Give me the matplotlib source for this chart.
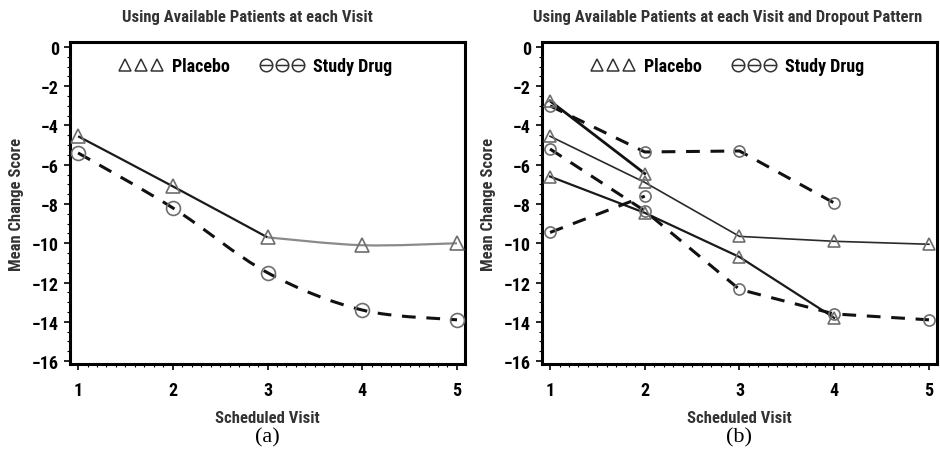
import numpy as np
import matplotlib
matplotlib.use("Agg")
import matplotlib.pyplot as plt
from matplotlib import font_manager
from matplotlib.path import Path
from matplotlib.patches import PathPatch
from matplotlib.lines import Line2D
from matplotlib.ticker import MultipleLocator

# ---- data -------------------------------------------------------------
visits = [1, 2, 3, 4, 5]
yticks = [0, -2, -4, -6, -8, -10, -12, -14, -16]

# (a) available patients at each visit
placebo_a = [-4.55, -7.1, -9.7, -10.1, -10.0]
drug_a = [-5.4, -8.2, -11.5, -13.4, -13.9]

# (b) by dropout pattern
placebo_b_done = [-4.55, -6.9, -9.65, -9.9, -10.05]   # completed 5 visits
placebo_b_v4 = [-6.6, -8.45, -10.7, -13.8]             # dropped out after visit 4
placebo_b_v2 = [-2.75, -6.45]                          # dropped out after visit 2
drug_b_done = [-5.2, -8.35, -12.35, -13.6, -13.9]
drug_b_v4 = [-3.0, -5.35, -5.3, -7.95]
drug_b_v2 = [-9.45, -7.6]

titles = ["Using Available Patients at each Visit",
          "Using Available Patients at each Visit and Dropout Pattern"]
panel_tags = ["(a)", "(b)"]


# ---- fonts: prefer a condensed face, else a narrow-ish one ------------
def first_available(names):
    for name in names:
        try:
            font_manager.findfont(font_manager.FontProperties(family=name),
                                  fallback_to_default=False)
            return name
        except Exception:
            continue
    return "DejaVu Sans"


_cond = first_available(["Roboto Condensed", "Liberation Sans Narrow",
                         "DejaVu Sans Condensed"])
if _cond != "DejaVu Sans":
    SANS = [_cond, "DejaVu Sans"]
    SCALE = 1.0
else:
    SANS = [first_available(["Roboto", "Lato", "DejaVu Sans"]), "DejaVu Sans"]
    SCALE = 0.86
SERIF = ["Liberation Serif", "DejaVu Serif"]
MARK_GRAY = "#6e6e6e"
TXT = "#333333"

# circle with a horizontal bar, as in the legend symbols
_circ = Path.unit_circle()
_bar = Path([(-1, 0), (1, 0)], [Path.MOVETO, Path.LINETO])
THETA_CIRCLE = Path.make_compound_path(_circ, _bar)


def smooth_path(ax, xs, ys, **kw):
    """Draw a smooth curve through the points (Catmull-Rom as cubic Beziers)."""
    pts = np.column_stack([np.asarray(xs, float), np.asarray(ys, float)])
    verts = [tuple(pts[0])]
    codes = [Path.MOVETO]
    n = len(pts)
    for i in range(n - 1):
        p0 = pts[i - 1] if i > 0 else pts[i]
        p1 = pts[i]
        p2 = pts[i + 1]
        p3 = pts[i + 2] if i + 2 < n else pts[i + 1]
        c1 = p1 + (p2 - p0) / 6.0
        c2 = p2 - (p3 - p1) / 6.0
        verts += [tuple(c1), tuple(c2), tuple(p2)]
        codes += [Path.CURVE4] * 3
    ax.add_patch(PathPatch(Path(verts, codes), fill=False, **kw))


def style_axes(ax):
    ax.set_xlim(0.915, 5.085)
    ax.set_ylim(-16.15, 0.25)
    ax.set_xticks(visits)
    ax.set_yticks(yticks)
    ax.xaxis.set_minor_locator(MultipleLocator(0.1))
    ax.yaxis.set_minor_locator(MultipleLocator(0.5))
    ax.set_xticklabels([str(v) for v in visits], fontweight="heavy",
                       family=SANS, fontsize=13 * SCALE)
    ax.set_yticklabels(["0"] + ["\u2212%d" % -t for t in yticks[1:]],
                       fontweight="heavy", family=SANS, fontsize=13 * SCALE)
    ax.tick_params(axis="both", which="major", length=4, width=1.2,
                   direction="out", colors="black", pad=4)
    ax.tick_params(axis="x", which="major", pad=8)
    ax.tick_params(axis="both", which="minor", length=2, width=0.8,
                   direction="out")
    for s in ax.spines.values():
        s.set_linewidth(2.2)
        s.set_color("black")
    ax.set_xlabel("Scheduled Visit", family=SANS, fontweight="bold",
                  fontsize=12 * SCALE, color=TXT, labelpad=8)
    ax.set_ylabel("Mean Change Score", family=SANS, fontweight="bold",
                  fontsize=12 * SCALE, color=TXT, labelpad=6)
    handles = [
        Line2D([0], [0], linestyle="none", marker="^", markersize=8,
               markerfacecolor="none", markeredgecolor="#333333",
               markeredgewidth=1.1),
        Line2D([0], [0], linestyle="none", marker=THETA_CIRCLE, markersize=9,
               markerfacecolor="none", markeredgecolor="#333333",
               markeredgewidth=1.1),
    ]
    ax.legend(handles, ["Placebo", "Study Drug"], loc="upper center",
              bbox_to_anchor=(0.47, 1.0), ncol=2, numpoints=3,
              frameon=False, handlelength=2.4, handletextpad=0.5,
              columnspacing=1.7, borderaxespad=0.45,
              prop={"family": SANS, "weight": "bold", "size": 13 * SCALE})


def markers(ax, xs, ys, marker, size):
    ax.plot(xs, ys, linestyle="none", marker=marker, markersize=size,
            markerfacecolor="none", markeredgecolor=MARK_GRAY,
            markeredgewidth=1.2, zorder=4)


fig = plt.figure(figsize=(9.4, 4.6), dpi=100)
ax_a = fig.add_axes([0.0745, 0.2065, 0.4202, 0.70])
ax_b = fig.add_axes([0.5766, 0.2065, 0.4202, 0.70])

# ---- panel (a) --------------------------------------------------------
dash = (0, (4.5, 3.5))
smooth_path(ax_a, visits[:3], placebo_a[:3], color="#1a1a1a", linewidth=1.6)
smooth_path(ax_a, visits[2:], placebo_a[2:], color="#8a8a8a", linewidth=1.6)
smooth_path(ax_a, visits, drug_a, color="#111111", linewidth=2.2,
            linestyle=dash)
markers(ax_a, visits, placebo_a, "^", 10)
markers(ax_a, visits, drug_a, "o", 10)

# ---- panel (b) --------------------------------------------------------
ax_b.plot(visits, placebo_b_done, color="#2a2a2a", linewidth=1.2)
ax_b.plot(visits[:4], placebo_b_v4, color="#1a1a1a", linewidth=1.6)
ax_b.plot(visits[:2], placebo_b_v2, color="#111111", linewidth=2.0)
ax_b.plot(visits, drug_b_done, color="#111111", linewidth=2.2, linestyle=dash)
ax_b.plot(visits[:4], drug_b_v4, color="#111111", linewidth=2.2, linestyle=dash)
ax_b.plot(visits[:2], drug_b_v2, color="#111111", linewidth=2.2, linestyle=dash)
for ys in (placebo_b_done, placebo_b_v4, placebo_b_v2):
    markers(ax_b, visits[:len(ys)], ys, "^", 8)
for ys in (drug_b_done, drug_b_v4, drug_b_v2):
    markers(ax_b, visits[:len(ys)], ys, "o", 8)

title_x = [0.45, 0.47]
for ax, title, tag, tx in zip((ax_a, ax_b), titles, panel_tags, title_x):
    style_axes(ax)
    ax.text(tx, 1.0 + 26 / 322, title, transform=ax.transAxes, ha="center",
            va="center", family=SANS, fontweight="bold",
            fontsize=12 * SCALE, color=TXT)
    ax.text(0.5, -0.225, tag, transform=ax.transAxes, ha="center",
            va="center", family=SERIF, fontsize=16)

fig.savefig("out.png", dpi=100, facecolor="white")
